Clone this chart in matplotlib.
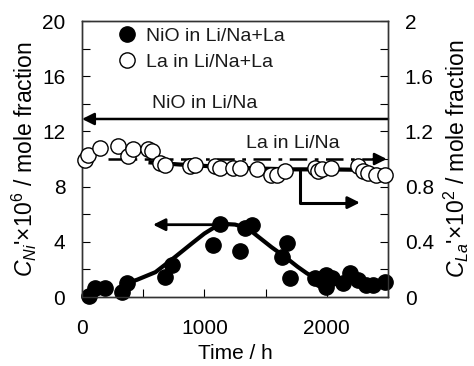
import matplotlib
matplotlib.use("Agg")
import matplotlib.pyplot as plt

# --- data ---
# NiO in Li/Na+La (left axis, x10^6)
ni_t = [60, 106, 188, 324, 365, 678, 732, 1072, 1127, 1290, 1331, 1385,
        1630, 1671, 1698, 1902, 1950, 1997, 1997, 2040, 2133, 2188, 2256,
        2324, 2378, 2473]
ni_v = [0.1, 0.63, 0.63, 0.39, 1.04, 1.48, 2.33, 3.78, 5.3, 3.3, 5.0, 5.2,
        2.93, 3.9, 1.36, 1.36, 1.2, 1.6, 0.75, 1.4, 1.0, 1.72, 1.24,
        0.87, 0.87, 1.12]

# NiO fit curve
ni_fit_t = [330, 450, 600, 760, 900, 1000, 1100, 1150, 1250, 1350, 1450,
            1550, 1660, 1760, 1840, 1910]
ni_fit_v = [0.9, 1.25, 1.8, 2.9, 3.9, 4.6, 5.15, 5.3, 5.25, 5.0, 4.3,
            3.6, 2.9, 2.2, 1.7, 1.4]

# La in Li/Na+La (right axis, x10^2)
la_t = [24, 52, 147, 297, 379, 420, 541, 569, 637, 678, 882, 922, 1086,
        1127, 1235, 1290, 1426, 1548, 1589, 1657, 1902, 1929, 1957, 2038,
        2256, 2297, 2337, 2405, 2473]
la_v = [0.996, 1.03, 1.08, 1.093, 1.02, 1.07, 1.07, 1.057, 0.972, 0.96,
        0.948, 0.96, 0.948, 0.936, 0.936, 0.936, 0.924, 0.887, 0.887,
        0.91, 0.936, 0.91, 0.924, 0.936, 0.948, 0.91, 0.90, 0.887, 0.887]

# La fit curve
la_fit_t = [560, 800, 1100, 1400, 1700, 2000, 2250, 2480]
la_fit_v = [0.975, 0.96, 0.945, 0.932, 0.925, 0.925, 0.922, 0.915]

nio_lina_level = 12.9   # left axis
la_lina_level = 1.0     # right axis

plt.rcParams['font.family'] = ['Liberation Sans', 'DejaVu Sans']
plt.rcParams['mathtext.fontset'] = 'custom'
plt.rcParams['mathtext.rm'] = 'Liberation Sans'
plt.rcParams['mathtext.it'] = 'Liberation Sans:italic'
plt.rcParams['font.size'] = 14
plt.rcParams['text.color'] = '#1a1a1a'

fig = plt.figure(figsize=(4.74, 3.66), dpi=100)
ax = fig.add_axes([0.173, 0.1885, 0.6456, 0.7541])
ax2 = ax.twinx()

ax.set_xlim(0, 2500)
ax.set_ylim(0, 20)
ax2.set_ylim(0, 2)

ax.set_xticks(range(0, 2501, 500))
ax.set_xticklabels(['0', '', '1000', '', '2000', ''])
ax.set_yticks(range(0, 21, 2))
ax.set_yticklabels([str(v) if v % 4 == 0 else '' for v in range(0, 21, 2)])
r_ticks = [i * 0.2 for i in range(11)]
r_labels = ['0', '', '0.4', '', '0.8', '', '1.2', '', '1.6', '', '2']
ax2.set_yticks(r_ticks)
ax2.set_yticklabels(r_labels)

ax.tick_params(axis='x', direction='in', length=6, pad=16, labelsize=15)
ax.tick_params(axis='y', direction='in', length=6, pad=12, labelsize=15)
ax2.tick_params(axis='y', direction='in', length=6, pad=12, labelsize=15)
for a in (ax, ax2):
    for s in a.spines.values():
        s.set_linewidth(1.0)
        s.set_color('#333333')

# fits
ax.plot(ni_fit_t, ni_fit_v, color='black', lw=3, solid_capstyle='round', zorder=2)
ax2.plot(la_fit_t, la_fit_v, color='black', lw=3, zorder=2)

# data points
ax.plot(ni_t, ni_v, 'o', color='black', ms=11, mec='black', clip_on=False, zorder=3)
ax2.plot(la_t, la_v, 'o', mfc='white', mec='black', mew=1.0, ms=11, clip_on=False, zorder=3)

# NiO in Li/Na level (arrow pointing to left axis)
ax.annotate('', xy=(0, nio_lina_level), xytext=(2500, nio_lina_level),
            arrowprops=dict(arrowstyle='-|>', color='black', lw=1.8, mutation_scale=18,
                            shrinkA=0, shrinkB=0))
ax.text(1000, 14.0, 'NiO in Li/Na', ha='center', va='center', fontsize=14)

# La in Li/Na level (dash-dot, arrow to right axis)
ax2.plot([212, 2400], [la_lina_level, la_lina_level], color='black', lw=1.8,
         dashes=(7, 3, 1.5, 3), zorder=2)
ax2.annotate('', xy=(2490, la_lina_level), xytext=(2380, la_lina_level),
             arrowprops=dict(arrowstyle='-|>', color='black', lw=1.8, mutation_scale=18,
                             shrinkA=0, shrinkB=0))
ax.text(1720, 11.1, 'La in Li/Na', ha='center', va='center', fontsize=14)

# arrow: NiO curve -> left axis
ax.annotate('', xy=(580, 5.24), xytext=(1110, 5.24),
            arrowprops=dict(arrowstyle='-|>', color='black', lw=2, mutation_scale=18,
                            shrinkA=0, shrinkB=0))

# L-shaped arrow: La curve -> right axis
ax2.plot([1780, 1780, 2180], [0.924, 0.684, 0.684], color='black', lw=2.2, zorder=2)
ax2.annotate('', xy=(2270, 0.684), xytext=(2170, 0.684),
             arrowprops=dict(arrowstyle='-|>', color='black', lw=2, mutation_scale=18,
                             shrinkA=0, shrinkB=0))

# legend
h1, = ax.plot([], [], 'o', color='black', ms=11)
h2, = ax.plot([], [], 'o', mfc='white', mec='black', mew=1.0, ms=11)
ax.legend([h1, h2], ['NiO in Li/Na+La', 'La in Li/Na+La'], loc='upper left',
          bbox_to_anchor=(0.07, 1.02), frameon=False, fontsize=14,
          handletextpad=0.4, handlelength=1.2, labelspacing=0.45, borderaxespad=0.2)

ax.set_xlabel('Time / h', fontsize=15, labelpad=4)
ax.set_ylabel("$C_{Ni}$'$\\times$10$^6$ / mole fraction", fontsize=16.5, labelpad=2)
ax2.set_ylabel("$C_{La}$'$\\times$10$^2$ / mole fraction", fontsize=16.5, labelpad=6)

fig.savefig('out.png', dpi=100)
